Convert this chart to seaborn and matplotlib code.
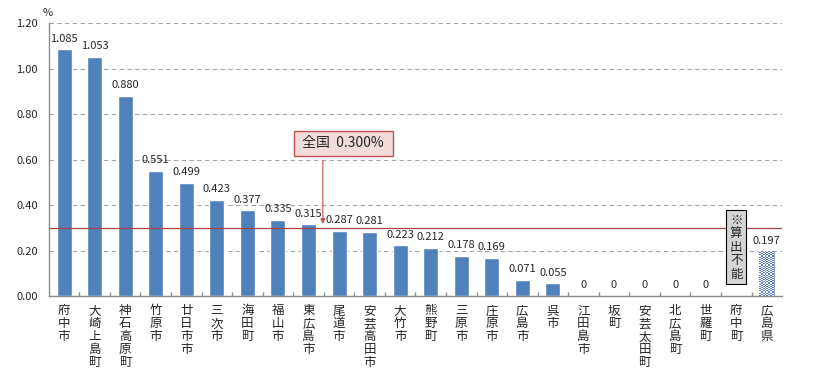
import matplotlib
matplotlib.use("Agg")
import matplotlib.pyplot as plt
import numpy as np
import seaborn as sns
from matplotlib.ticker import FixedLocator, FormatStrFormatter

# data (%)
municipalities = [
    "府中市", "大崎上島町", "神石高原町", "竹原市", "廿日市市", "三次市", "海田町",
    "福山市", "東広島市", "尾道市", "安芸高田市", "大竹市", "熊野町", "三原市",
    "庄原市", "広島市", "呉市", "江田島市", "坂町", "安芸太田町", "北広島町",
    "世羅町", "府中町", "広島県",
]
rates = [
    1.085, 1.053, 0.880, 0.551, 0.499, 0.423, 0.377, 0.335, 0.315, 0.287,
    0.281, 0.223, 0.212, 0.178, 0.169, 0.071, 0.055, 0, 0, 0, 0, 0,
    np.nan, 0.197,
]
national_rate = 0.300
no_data_label = "府中町"

BLUE = "#4F81BD"
RED = "#A84442"
GRID = "#A6A6A6"

sns.set_theme(style="white")
plt.rcParams["font.family"] = ["Noto Sans CJK JP", "DejaVu Sans"]

fig = plt.figure(figsize=(8.13, 3.79), dpi=100)
ax = fig.add_axes([0.060, 0.219, 0.902, 0.720])

sns.barplot(x=municipalities, y=rates, color=BLUE, width=0.49, saturation=1,
            ax=ax, zorder=3)

ax.set_ylim(0, 1.2)
ax.set_xlim(-0.5, len(municipalities) - 0.5)

# 広島県 bar: checkered pattern clipped to the bar
last = ax.patches[-1]
x0, w, h = last.get_x(), last.get_width(), last.get_height()
checker = np.indices((40, 8)).sum(axis=0) % 2
img = ax.imshow(checker, cmap=matplotlib.colors.ListedColormap(["white", "#5B84BE"]),
                extent=(x0, x0 + w, 0, h), aspect="auto", zorder=3,
                interpolation="nearest")
img.set_clip_path(last)
last.set_facecolor("none")
last.set_edgecolor("#7F9FCB")
last.set_linewidth(0.6)
ax.set_xlim(-0.5, len(municipalities) - 0.5)
ax.set_ylim(0, 1.2)

ax.yaxis.set_major_locator(FixedLocator(np.arange(0, 1.21, 0.2)))
ax.yaxis.set_major_formatter(FormatStrFormatter("%.2f"))
ax.grid(axis="y", linestyle=(0, (4, 3)), color=GRID, linewidth=0.8, zorder=0)
ax.grid(axis="x", visible=False)

for side in ["top", "right"]:
    ax.spines[side].set_visible(False)
for side in ["left", "bottom"]:
    ax.spines[side].set_color("#8C8C8C")
    ax.spines[side].set_linewidth(1.0)
    ax.spines[side].set_zorder(4)

ax.set_xticks(range(len(municipalities)))
ax.set_xticklabels(["\n".join(c) for c in municipalities], fontsize=9,
                   linespacing=1.0, va="top")
ax.tick_params(axis="x", length=0, pad=6)
ax.xaxis.set_minor_locator(
    FixedLocator(np.arange(0.5, len(municipalities) - 0.5, 1)))
ax.tick_params(axis="x", which="minor", direction="in", length=3,
               color="#8C8C8C", bottom=True)
ax.tick_params(axis="y", labelsize=8, length=0, pad=8)
ax.set_xlabel("")
ax.set_ylabel("")

# value labels
for i, v in enumerate(rates):
    if np.isnan(v):
        continue
    txt = "0" if v == 0 else f"{v:.3f}"
    ax.text(i, v + 0.025, txt, ha="center", va="bottom", fontsize=8,
            zorder=5)

# national average line
ax.axhline(national_rate, color=RED, linewidth=0.9, zorder=4)
ax.text(9.14, 0.672, " 全国  0.300% ", ha="center", va="center", fontsize=10,
        zorder=6,
        bbox=dict(boxstyle="square,pad=0.4", facecolor="#F2DCDB",
                  edgecolor="#C0504D", linewidth=1.0))
ax.annotate("", xy=(8.47, national_rate + 0.005), xytext=(8.47, 0.607),
            arrowprops=dict(arrowstyle="-|>", color="#C0504D", linewidth=0.8,
                            mutation_scale=7), zorder=5)

# "not computable" note for 府中町
ax.text(municipalities.index(no_data_label), 0.215, "※\n算\n出\n不\n能",
        ha="center", va="center", fontsize=9, linespacing=1.05, zorder=6,
        bbox=dict(boxstyle="square,pad=0.3", facecolor="#D4D4D4",
                  edgecolor="black", linewidth=0.8))

fig.text(0.053, 0.965, "%", fontsize=8, ha="left", va="center")

fig.savefig("out.png", dpi=100)
